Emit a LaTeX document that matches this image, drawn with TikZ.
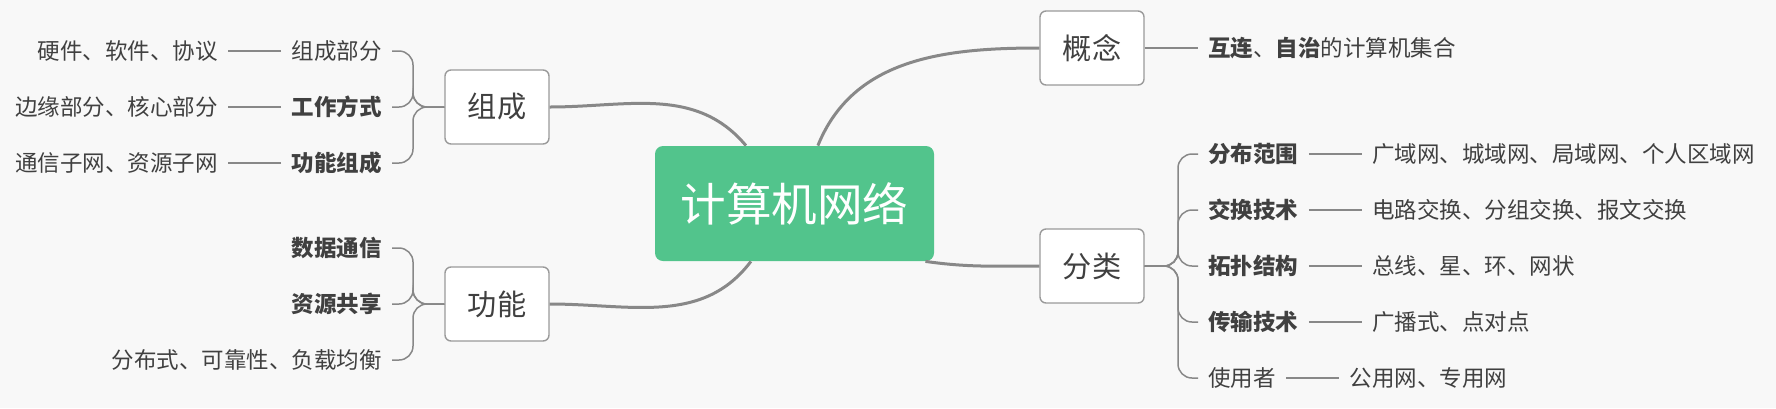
\documentclass[tikz,border=0pt]{standalone}
\usepackage{fontspec}
\setmainfont{Noto Sans CJK SC}
\usetikzlibrary{positioning}
\definecolor{bgcol}{HTML}{F8F8F8}
\definecolor{rootcol}{HTML}{52C48C}
\definecolor{linecol}{HTML}{888888}
\definecolor{boxline}{HTML}{9A9A9A}
\definecolor{txtcol}{HTML}{404040}

\begin{document}
\begin{tikzpicture}[x=0.5pt,y=-0.5pt,
  root/.style={
    rectangle,
    rounded corners=4pt,
    fill=rootcol,
    text=white,
    minimum width=139.5pt,
    minimum height=57.5pt,
    font=\fontsize{22.8}{26}\selectfont
  },
  topic/.style={
    rectangle,
    rounded corners=3pt,
    draw=boxline,
    line width=0.7pt,
    fill=white,
    text=txtcol,
    minimum width=52pt,
    minimum height=37pt,
    font=\fontsize{14.6}{17}\selectfont
  },
  leaf/.style={
    text=txtcol,
    inner xsep=5pt,
    inner ysep=2pt,
    font=\fontsize{11.25}{13}\selectfont
  },
  branch/.style={draw=linecol, line width=1.5pt},
  brace/.style={draw=linecol, line width=0.75pt, rounded corners=7pt},
  link/.style={draw=linecol, line width=0.75pt},
  node distance=26.5pt
]
\fill[bgcol] (0,0) rectangle (1776,408);
\useasboundingbox (0,0) rectangle (1776,408);

% root and main topics
\node[root] (cn) at (794.5,203.5) {计算机网络};
\node[topic] (zc) at (497,107) {组成};
\node[topic] (gc) at (497,304) {功能};
\node[topic] (gn) at (1092,48) {概念};
\node[topic] (fl) at (1092,266) {分类};

\draw[branch] (zc.east) to[out=0,in=130] (cn);
\draw[branch] (gc.east) to[out=0,in=233] (cn);
\draw[branch] (cn) to[out=68,in=180] (gn.west);
\draw[branch] ([xshift=-4.5pt]cn.south east) to[out=-8,in=180] (fl.west);

% 组成
\coordinate (zcb) at (413,107);
\node[leaf,anchor=east] (zc1) at (392,51) {组成部分};
\node[leaf,anchor=east] (zc2) at (392,107) {\textbf{工作方式}};
\node[leaf,anchor=east] (zc3) at (392,163) {\textbf{功能组成}};
\node[leaf,left=of zc1] (zc1a) {硬件、软件、协议};
\node[leaf,left=of zc2] (zc2a) {边缘部分、核心部分};
\node[leaf,left=of zc3] (zc3a) {通信子网、资源子网};
\foreach \c in {zc1,zc2,zc3} {
  \draw[brace] (zc.west) -- (zcb) |- (\c.east);
  \draw[link] (\c.west) -- (\c a.east);
}

% 功能
\coordinate (gcb) at (413,304);
\node[leaf,anchor=east] (gc1) at (392,248) {\textbf{数据通信}};
\node[leaf,anchor=east] (gc2) at (392,304) {\textbf{资源共享}};
\node[leaf,anchor=east] (gc3) at (392,360) {分布式、可靠性、负载均衡};
\foreach \c in {gc1,gc2,gc3}
  \draw[brace] (gc.west) -- (gcb) |- (\c.east);

% 概念
\node[leaf,anchor=west] (gn1) at (1198,48) {\textbf{互连}、\textbf{自治}的计算机集合};
\draw[link] (gn.east) -- (gn1.west);

% 分类
\coordinate (flb) at (1178,266);
\node[leaf,anchor=west] (fl1) at (1198,154) {\textbf{分布范围}};
\node[leaf,anchor=west] (fl2) at (1198,210) {\textbf{交换技术}};
\node[leaf,anchor=west] (fl3) at (1198,266) {\textbf{拓扑结构}};
\node[leaf,anchor=west] (fl4) at (1198,322) {\textbf{传输技术}};
\node[leaf,anchor=west] (fl5) at (1198,378) {使用者};
\node[leaf,right=of fl1] (fl1a) {广域网、城域网、局域网、个人区域网};
\node[leaf,right=of fl2] (fl2a) {电路交换、分组交换、报文交换};
\node[leaf,right=of fl3] (fl3a) {总线、星、环、网状};
\node[leaf,right=of fl4] (fl4a) {广播式、点对点};
\node[leaf,right=of fl5] (fl5a) {公用网、专用网};
\foreach \c in {fl1,fl2,fl3,fl4,fl5} {
  \draw[brace] (fl.east) -- (flb) |- (\c.west);
  \draw[link] (\c.east) -- (\c a.west);
}
\end{tikzpicture}
\end{document}
